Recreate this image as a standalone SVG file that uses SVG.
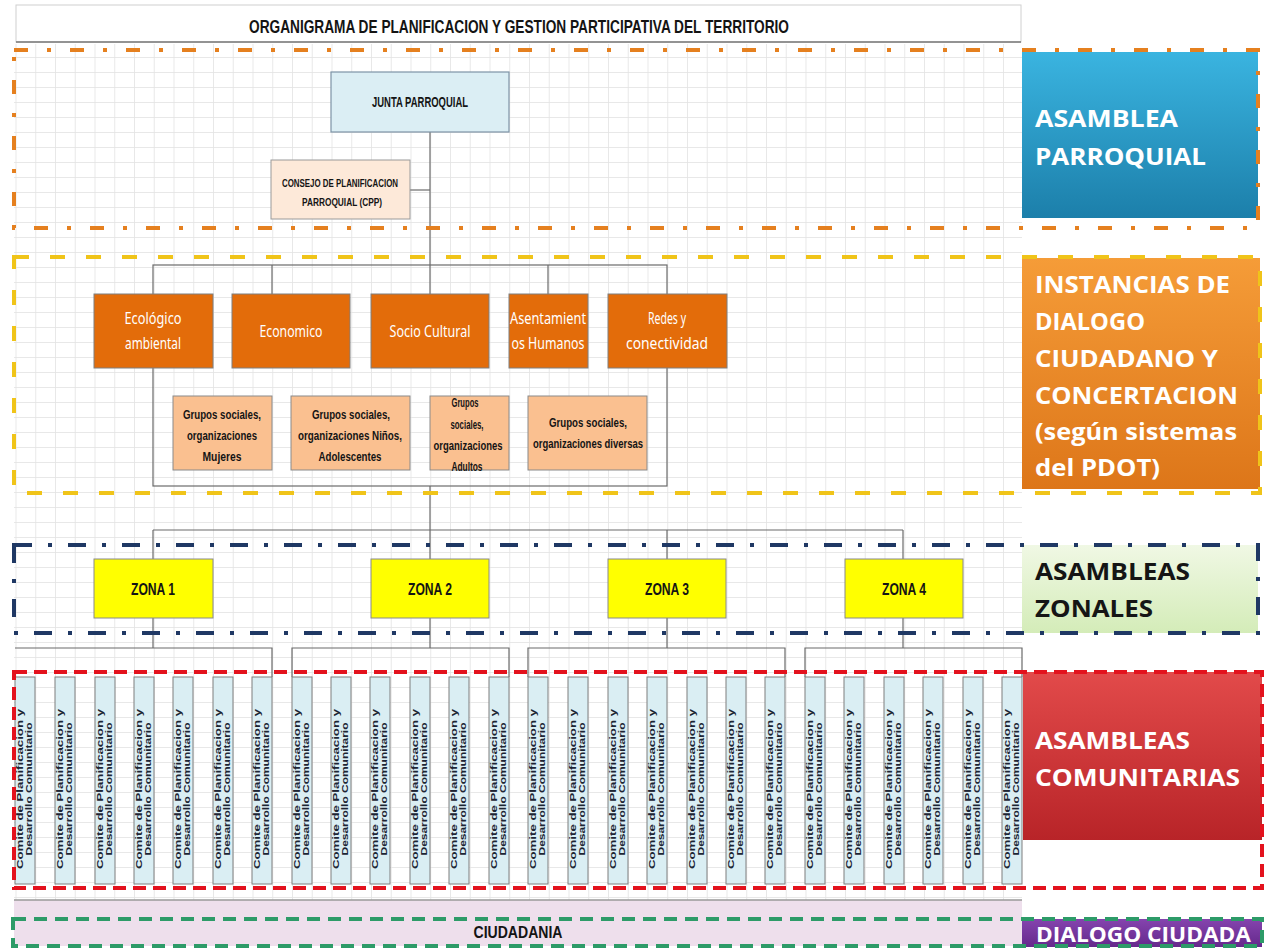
<svg xmlns="http://www.w3.org/2000/svg" width="1270" height="948" viewBox="0 0 1270 948">
<defs>
<pattern id="grid" width="19.75" height="15" patternUnits="userSpaceOnUse" x="15.5" y="12">
<path d="M0 0.5H19.75M0.5 0V15" stroke="#e2e2e2" stroke-width="0.8" fill="none"/>
</pattern>
<linearGradient id="gBlue" x1="0" y1="0" x2="0" y2="1"><stop offset="0" stop-color="#3AB4E0"/><stop offset="1" stop-color="#1C7FAA"/></linearGradient>
<linearGradient id="gOrange" x1="0" y1="0" x2="0" y2="1"><stop offset="0" stop-color="#F59C38"/><stop offset="1" stop-color="#DD7619"/></linearGradient>
<linearGradient id="gGreen" x1="0" y1="0" x2="0" y2="1"><stop offset="0" stop-color="#F0F8E4"/><stop offset="1" stop-color="#D4ECB8"/></linearGradient>
<linearGradient id="gRed" x1="0" y1="0" x2="0" y2="1"><stop offset="0" stop-color="#E24A4A"/><stop offset="1" stop-color="#B82428"/></linearGradient>
<linearGradient id="gPurple" x1="0" y1="0" x2="0" y2="1"><stop offset="0" stop-color="#8544AE"/><stop offset="1" stop-color="#65298C"/></linearGradient>
</defs>
<style>
.big{font-family:"Open Sans","Noto Sans","DejaVu Sans",sans-serif;font-weight:700;font-size:24px;fill:#ffffff}
.nar{font-family:"Liberation Sans",Arial,sans-serif;font-weight:700;fill:#141414}
.ob{fill:#E36C0A;stroke:#7f7f7f;stroke-width:1}
.ot{font-family:"Noto Sans","Open Sans",sans-serif;font-size:17px;fill:#ffffff;text-anchor:middle}
.pb{fill:#FAC090;stroke:#8a8a8a;stroke-width:1}
.pt{font-family:"Liberation Sans",Arial,sans-serif;font-weight:700;font-size:13px;fill:#141414;text-anchor:middle}
.zb{fill:#FFFF00;stroke:#8a8a8a;stroke-width:1}
.zt{font-family:"Liberation Sans",Arial,sans-serif;font-weight:700;font-size:16px;fill:#141414;text-anchor:middle}
.cb{fill:#DAEEF3;stroke:#7f7f7f;stroke-width:1}
.ct{font-family:"Liberation Sans",Arial,sans-serif;font-weight:700;font-size:8.5px;fill:#1c2533;text-anchor:middle}
.conn{stroke:#6b6b6b;stroke-width:1.2;fill:none}
.fr{fill:none;stroke-width:4}
</style>
<rect x="0" y="0" width="1270" height="948" fill="#ffffff"/>
<rect x="14" y="44" width="1008" height="856" fill="url(#grid)"/>
<rect x="14" y="900" width="1008" height="46" fill="#EEDFEC"/>
<line x1="14" y1="900" x2="1022" y2="900" stroke="#9a9a9a" stroke-width="1.5"/>

<g id="title">
<rect x="16" y="5" width="1005" height="37" fill="#ffffff" stroke="#d0d0d0" stroke-width="1"/>
<line x1="16" y1="42" x2="1021" y2="42" stroke="#777777" stroke-width="1.5"/>
<text class="nar" x="519" y="33" font-size="19" text-anchor="middle" textLength="540" lengthAdjust="spacingAndGlyphs">ORGANIGRAMA DE PLANIFICACION Y GESTION PARTICIPATIVA DEL TERRITORIO</text>
</g>

<g id="connectors">
<line class="conn" x1="430" y1="132" x2="430" y2="294"/>
<line class="conn" x1="410" y1="190" x2="430" y2="190"/>
<rect class="conn" x="153" y="265" width="514" height="221"/>
<line class="conn" x1="272" y1="265" x2="272" y2="294"/>
<line class="conn" x1="548" y1="265" x2="548" y2="294"/>
<line class="conn" x1="430" y1="486" x2="430" y2="559"/>
<line class="conn" x1="153" y1="530" x2="903" y2="530"/>
<line class="conn" x1="153" y1="530" x2="153" y2="559"/>
<line class="conn" x1="667" y1="530" x2="667" y2="559"/>
<line class="conn" x1="903" y1="530" x2="903" y2="559"/>
<line class="conn" x1="153" y1="618" x2="153" y2="648"/>
<line class="conn" x1="430" y1="618" x2="430" y2="648"/>
<line class="conn" x1="667" y1="618" x2="667" y2="648"/>
<line class="conn" x1="903" y1="618" x2="903" y2="648"/>
<path class="conn" d="M15 648H272V677"/>
<path class="conn" d="M292 677V648H509V677"/>
<path class="conn" d="M528 677V648H785V677"/>
<path class="conn" d="M805 677V648H1022V677"/>
</g>

<g id="junta-parroquial">
<rect x="331" y="72" width="178" height="60" fill="#DBEEF4" stroke="#7d93a6" stroke-width="1.2"/>
<text class="nar" x="420" y="107" font-size="14" text-anchor="middle" textLength="96" lengthAdjust="spacingAndGlyphs">JUNTA PARROQUIAL</text>
</g>
<g id="consejo-planificacion">
<rect x="271" y="160" width="139" height="59" fill="#FDE9D9" stroke="#9a9a9a" stroke-width="1"/>
<text class="nar" x="340" y="187" font-size="11" text-anchor="middle" textLength="116" lengthAdjust="spacingAndGlyphs">CONSEJO DE PLANIFICACION</text>
<text class="nar" x="342" y="206" font-size="11" text-anchor="middle" textLength="80" lengthAdjust="spacingAndGlyphs">PARROQUIAL (CPP)</text>
</g>

<g id="ecologico">
<rect class="ob" x="94" y="294" width="119" height="74"/>
<text class="ot" x="153" y="324" textLength="57" lengthAdjust="spacingAndGlyphs">Ecológico</text>
<text class="ot" x="153" y="349" textLength="56" lengthAdjust="spacingAndGlyphs">ambiental</text>
</g>
<g id="economico">
<rect class="ob" x="232" y="294" width="118" height="74"/>
<text class="ot" x="291" y="337" textLength="63" lengthAdjust="spacingAndGlyphs">Economico</text>
</g>
<g id="socio-cultural">
<rect class="ob" x="371" y="294" width="118" height="74"/>
<text class="ot" x="430" y="337" textLength="81" lengthAdjust="spacingAndGlyphs">Socio Cultural</text>
</g>
<g id="asentamientos">
<rect class="ob" x="509" y="294" width="79" height="74"/>
<text class="ot" x="548" y="324" textLength="76" lengthAdjust="spacingAndGlyphs">Asentamient</text>
<text class="ot" x="548" y="349" textLength="73" lengthAdjust="spacingAndGlyphs">os Humanos</text>
</g>
<g id="redes">
<rect class="ob" x="608" y="294" width="119" height="74"/>
<text class="ot" x="667" y="324" textLength="38" lengthAdjust="spacingAndGlyphs">Redes y</text>
<text class="ot" x="667" y="349" textLength="82" lengthAdjust="spacingAndGlyphs">conectividad</text>
</g>

<g id="grupos-mujeres">
<rect class="pb" x="173" y="396" width="99" height="74"/>
<text class="pt" x="222" y="419" textLength="78" lengthAdjust="spacingAndGlyphs">Grupos sociales,</text>
<text class="pt" x="222" y="440" textLength="70" lengthAdjust="spacingAndGlyphs">organizaciones</text>
<text class="pt" x="222" y="461" textLength="39" lengthAdjust="spacingAndGlyphs">Mujeres</text>
</g>
<g id="grupos-ninos">
<rect class="pb" x="291" y="396" width="119" height="74"/>
<text class="pt" x="351" y="419" textLength="78" lengthAdjust="spacingAndGlyphs">Grupos sociales,</text>
<text class="pt" x="350" y="440" textLength="104" lengthAdjust="spacingAndGlyphs">organizaciones Niños,</text>
<text class="pt" x="350" y="461" textLength="63" lengthAdjust="spacingAndGlyphs">Adolescentes</text>
</g>
<g id="grupos-adultos">
<rect class="pb" x="430" y="396" width="79" height="74"/>
<text class="pt" x="465" y="407" textLength="27" lengthAdjust="spacingAndGlyphs">Grupos</text>
<text class="pt" x="467" y="429" textLength="33" lengthAdjust="spacingAndGlyphs">sociales,</text>
<text class="pt" x="468" y="450" textLength="69" lengthAdjust="spacingAndGlyphs">organizaciones</text>
<text class="pt" x="467" y="471" textLength="31" lengthAdjust="spacingAndGlyphs">Adultos</text>
</g>
<g id="grupos-diversas">
<rect class="pb" x="528" y="396" width="119" height="74"/>
<text class="pt" x="588" y="427" textLength="78" lengthAdjust="spacingAndGlyphs">Grupos sociales,</text>
<text class="pt" x="588" y="448" textLength="110" lengthAdjust="spacingAndGlyphs">organizaciones diversas</text>
</g>

<g id="zona-1"><rect class="zb" x="94" y="559" width="119" height="59"/><text class="zt" x="153" y="595" textLength="44" lengthAdjust="spacingAndGlyphs">ZONA 1</text></g>
<g id="zona-2"><rect class="zb" x="371" y="559" width="118" height="59"/><text class="zt" x="430" y="595" textLength="44" lengthAdjust="spacingAndGlyphs">ZONA 2</text></g>
<g id="zona-3"><rect class="zb" x="608" y="559" width="118" height="59"/><text class="zt" x="667" y="595" textLength="44" lengthAdjust="spacingAndGlyphs">ZONA 3</text></g>
<g id="zona-4"><rect class="zb" x="845" y="559" width="118" height="59"/><text class="zt" x="904" y="595" textLength="44" lengthAdjust="spacingAndGlyphs">ZONA 4</text></g>

<g id="comite-1"><rect class="cb" x="15" y="677" width="20" height="207"/><text class="ct" transform="translate(15,789) rotate(-90)" y="8" textLength="160" lengthAdjust="spacingAndGlyphs">Comite de Planificacion y</text><text class="ct" transform="translate(15,789) rotate(-90)" y="17" textLength="133" lengthAdjust="spacingAndGlyphs">Desarrollo Comunitario</text></g>
<g id="comite-2"><rect class="cb" x="55" y="677" width="20" height="207"/><text class="ct" transform="translate(55,789) rotate(-90)" y="8" textLength="160" lengthAdjust="spacingAndGlyphs">Comite de Planificacion y</text><text class="ct" transform="translate(55,789) rotate(-90)" y="17" textLength="133" lengthAdjust="spacingAndGlyphs">Desarrollo Comunitario</text></g>
<g id="comite-3"><rect class="cb" x="95" y="677" width="20" height="207"/><text class="ct" transform="translate(95,789) rotate(-90)" y="8" textLength="160" lengthAdjust="spacingAndGlyphs">Comite de Planificacion y</text><text class="ct" transform="translate(95,789) rotate(-90)" y="17" textLength="133" lengthAdjust="spacingAndGlyphs">Desarrollo Comunitario</text></g>
<g id="comite-4"><rect class="cb" x="134" y="677" width="20" height="207"/><text class="ct" transform="translate(134,789) rotate(-90)" y="8" textLength="160" lengthAdjust="spacingAndGlyphs">Comite de Planificacion y</text><text class="ct" transform="translate(134,789) rotate(-90)" y="17" textLength="133" lengthAdjust="spacingAndGlyphs">Desarrollo Comunitario</text></g>
<g id="comite-5"><rect class="cb" x="173" y="677" width="20" height="207"/><text class="ct" transform="translate(173,789) rotate(-90)" y="8" textLength="160" lengthAdjust="spacingAndGlyphs">Comite de Planificacion y</text><text class="ct" transform="translate(173,789) rotate(-90)" y="17" textLength="133" lengthAdjust="spacingAndGlyphs">Desarrollo Comunitario</text></g>
<g id="comite-6"><rect class="cb" x="213" y="677" width="20" height="207"/><text class="ct" transform="translate(213,789) rotate(-90)" y="8" textLength="160" lengthAdjust="spacingAndGlyphs">Comite de Planificacion y</text><text class="ct" transform="translate(213,789) rotate(-90)" y="17" textLength="133" lengthAdjust="spacingAndGlyphs">Desarrollo Comunitario</text></g>
<g id="comite-7"><rect class="cb" x="252" y="677" width="20" height="207"/><text class="ct" transform="translate(252,789) rotate(-90)" y="8" textLength="160" lengthAdjust="spacingAndGlyphs">Comite de Planificacion y</text><text class="ct" transform="translate(252,789) rotate(-90)" y="17" textLength="133" lengthAdjust="spacingAndGlyphs">Desarrollo Comunitario</text></g>
<g id="comite-8"><rect class="cb" x="292" y="677" width="20" height="207"/><text class="ct" transform="translate(292,789) rotate(-90)" y="8" textLength="160" lengthAdjust="spacingAndGlyphs">Comite de Planificacion y</text><text class="ct" transform="translate(292,789) rotate(-90)" y="17" textLength="133" lengthAdjust="spacingAndGlyphs">Desarrollo Comunitario</text></g>
<g id="comite-9"><rect class="cb" x="331" y="677" width="20" height="207"/><text class="ct" transform="translate(331,789) rotate(-90)" y="8" textLength="160" lengthAdjust="spacingAndGlyphs">Comite de Planificacion y</text><text class="ct" transform="translate(331,789) rotate(-90)" y="17" textLength="133" lengthAdjust="spacingAndGlyphs">Desarrollo Comunitario</text></g>
<g id="comite-10"><rect class="cb" x="370" y="677" width="20" height="207"/><text class="ct" transform="translate(370,789) rotate(-90)" y="8" textLength="160" lengthAdjust="spacingAndGlyphs">Comite de Planificacion y</text><text class="ct" transform="translate(370,789) rotate(-90)" y="17" textLength="133" lengthAdjust="spacingAndGlyphs">Desarrollo Comunitario</text></g>
<g id="comite-11"><rect class="cb" x="410" y="677" width="20" height="207"/><text class="ct" transform="translate(410,789) rotate(-90)" y="8" textLength="160" lengthAdjust="spacingAndGlyphs">Comite de Planificacion y</text><text class="ct" transform="translate(410,789) rotate(-90)" y="17" textLength="133" lengthAdjust="spacingAndGlyphs">Desarrollo Comunitario</text></g>
<g id="comite-12"><rect class="cb" x="449" y="677" width="20" height="207"/><text class="ct" transform="translate(449,789) rotate(-90)" y="8" textLength="160" lengthAdjust="spacingAndGlyphs">Comite de Planificacion y</text><text class="ct" transform="translate(449,789) rotate(-90)" y="17" textLength="133" lengthAdjust="spacingAndGlyphs">Desarrollo Comunitario</text></g>
<g id="comite-13"><rect class="cb" x="489" y="677" width="20" height="207"/><text class="ct" transform="translate(489,789) rotate(-90)" y="8" textLength="160" lengthAdjust="spacingAndGlyphs">Comite de Planificacion y</text><text class="ct" transform="translate(489,789) rotate(-90)" y="17" textLength="133" lengthAdjust="spacingAndGlyphs">Desarrollo Comunitario</text></g>
<g id="comite-14"><rect class="cb" x="528" y="677" width="20" height="207"/><text class="ct" transform="translate(528,789) rotate(-90)" y="8" textLength="160" lengthAdjust="spacingAndGlyphs">Comite de Planificacion y</text><text class="ct" transform="translate(528,789) rotate(-90)" y="17" textLength="133" lengthAdjust="spacingAndGlyphs">Desarrollo Comunitario</text></g>
<g id="comite-15"><rect class="cb" x="568" y="677" width="20" height="207"/><text class="ct" transform="translate(568,789) rotate(-90)" y="8" textLength="160" lengthAdjust="spacingAndGlyphs">Comite de Planificacion y</text><text class="ct" transform="translate(568,789) rotate(-90)" y="17" textLength="133" lengthAdjust="spacingAndGlyphs">Desarrollo Comunitario</text></g>
<g id="comite-16"><rect class="cb" x="608" y="677" width="20" height="207"/><text class="ct" transform="translate(608,789) rotate(-90)" y="8" textLength="160" lengthAdjust="spacingAndGlyphs">Comite de Planificacion y</text><text class="ct" transform="translate(608,789) rotate(-90)" y="17" textLength="133" lengthAdjust="spacingAndGlyphs">Desarrollo Comunitario</text></g>
<g id="comite-17"><rect class="cb" x="647" y="677" width="20" height="207"/><text class="ct" transform="translate(647,789) rotate(-90)" y="8" textLength="160" lengthAdjust="spacingAndGlyphs">Comite de Planificacion y</text><text class="ct" transform="translate(647,789) rotate(-90)" y="17" textLength="133" lengthAdjust="spacingAndGlyphs">Desarrollo Comunitario</text></g>
<g id="comite-18"><rect class="cb" x="687" y="677" width="20" height="207"/><text class="ct" transform="translate(687,789) rotate(-90)" y="8" textLength="160" lengthAdjust="spacingAndGlyphs">Comite de Planificacion y</text><text class="ct" transform="translate(687,789) rotate(-90)" y="17" textLength="133" lengthAdjust="spacingAndGlyphs">Desarrollo Comunitario</text></g>
<g id="comite-19"><rect class="cb" x="726" y="677" width="20" height="207"/><text class="ct" transform="translate(726,789) rotate(-90)" y="8" textLength="160" lengthAdjust="spacingAndGlyphs">Comite de Planificacion y</text><text class="ct" transform="translate(726,789) rotate(-90)" y="17" textLength="133" lengthAdjust="spacingAndGlyphs">Desarrollo Comunitario</text></g>
<g id="comite-20"><rect class="cb" x="765" y="677" width="20" height="207"/><text class="ct" transform="translate(765,789) rotate(-90)" y="8" textLength="160" lengthAdjust="spacingAndGlyphs">Comite de Planificacion y</text><text class="ct" transform="translate(765,789) rotate(-90)" y="17" textLength="133" lengthAdjust="spacingAndGlyphs">Desarrollo Comunitario</text></g>
<g id="comite-21"><rect class="cb" x="805" y="677" width="20" height="207"/><text class="ct" transform="translate(805,789) rotate(-90)" y="8" textLength="160" lengthAdjust="spacingAndGlyphs">Comite de Planificacion y</text><text class="ct" transform="translate(805,789) rotate(-90)" y="17" textLength="133" lengthAdjust="spacingAndGlyphs">Desarrollo Comunitario</text></g>
<g id="comite-22"><rect class="cb" x="844" y="677" width="20" height="207"/><text class="ct" transform="translate(844,789) rotate(-90)" y="8" textLength="160" lengthAdjust="spacingAndGlyphs">Comite de Planificacion y</text><text class="ct" transform="translate(844,789) rotate(-90)" y="17" textLength="133" lengthAdjust="spacingAndGlyphs">Desarrollo Comunitario</text></g>
<g id="comite-23"><rect class="cb" x="884" y="677" width="20" height="207"/><text class="ct" transform="translate(884,789) rotate(-90)" y="8" textLength="160" lengthAdjust="spacingAndGlyphs">Comite de Planificacion y</text><text class="ct" transform="translate(884,789) rotate(-90)" y="17" textLength="133" lengthAdjust="spacingAndGlyphs">Desarrollo Comunitario</text></g>
<g id="comite-24"><rect class="cb" x="923" y="677" width="20" height="207"/><text class="ct" transform="translate(923,789) rotate(-90)" y="8" textLength="160" lengthAdjust="spacingAndGlyphs">Comite de Planificacion y</text><text class="ct" transform="translate(923,789) rotate(-90)" y="17" textLength="133" lengthAdjust="spacingAndGlyphs">Desarrollo Comunitario</text></g>
<g id="comite-25"><rect class="cb" x="963" y="677" width="20" height="207"/><text class="ct" transform="translate(963,789) rotate(-90)" y="8" textLength="160" lengthAdjust="spacingAndGlyphs">Comite de Planificacion y</text><text class="ct" transform="translate(963,789) rotate(-90)" y="17" textLength="133" lengthAdjust="spacingAndGlyphs">Desarrollo Comunitario</text></g>
<g id="comite-26"><rect class="cb" x="1002" y="677" width="20" height="207"/><text class="ct" transform="translate(1002,789) rotate(-90)" y="8" textLength="160" lengthAdjust="spacingAndGlyphs">Comite de Planificacion y</text><text class="ct" transform="translate(1002,789) rotate(-90)" y="17" textLength="133" lengthAdjust="spacingAndGlyphs">Desarrollo Comunitario</text></g>

<g id="ciudadania">
<text class="nar" x="518" y="938" font-size="17" text-anchor="middle" textLength="89" lengthAdjust="spacingAndGlyphs">CIUDADANIA</text>
</g>

<g id="asamblea-parroquial">
<rect x="1022" y="52" width="236" height="166" fill="url(#gBlue)"/>
<text class="big" x="1035" y="127" textLength="143" lengthAdjust="spacingAndGlyphs">ASAMBLEA</text>
<text class="big" x="1035" y="165" textLength="171" lengthAdjust="spacingAndGlyphs">PARROQUIAL</text>
</g>
<g id="instancias-dialogo">
<rect x="1022" y="258" width="238" height="231" fill="url(#gOrange)"/>
<text class="big" x="1035" y="293" textLength="195" lengthAdjust="spacingAndGlyphs">INSTANCIAS DE</text>
<text class="big" x="1035" y="330" textLength="110" lengthAdjust="spacingAndGlyphs">DIALOGO</text>
<text class="big" x="1035" y="367" textLength="183" lengthAdjust="spacingAndGlyphs">CIUDADANO Y</text>
<text class="big" x="1035" y="404" textLength="203" lengthAdjust="spacingAndGlyphs">CONCERTACION</text>
<text class="big" x="1035" y="440" textLength="202" lengthAdjust="spacingAndGlyphs">(según sistemas</text>
<text class="big" x="1035" y="476" textLength="125" lengthAdjust="spacingAndGlyphs">del PDOT)</text>
</g>
<g id="asambleas-zonales">
<rect x="1022" y="545" width="236" height="88" fill="url(#gGreen)"/>
<text class="big" x="1035" y="580" style="fill:#151515" textLength="155" lengthAdjust="spacingAndGlyphs">ASAMBLEAS</text>
<text class="big" x="1035" y="617" style="fill:#151515" textLength="118" lengthAdjust="spacingAndGlyphs">ZONALES</text>
</g>
<g id="asambleas-comunitarias">
<rect x="1023" y="672" width="239" height="168" fill="url(#gRed)"/>
<text class="big" x="1035" y="749" textLength="155" lengthAdjust="spacingAndGlyphs">ASAMBLEAS</text>
<text class="big" x="1035" y="786" textLength="205" lengthAdjust="spacingAndGlyphs">COMUNITARIAS</text>
</g>
<g id="dialogo-ciudadano">
<rect x="1022" y="919" width="240" height="28" fill="url(#gPurple)"/>
<text class="big" x="1036" y="942" style="font-size:22px" textLength="215" lengthAdjust="spacingAndGlyphs">DIALOGO CIUDADA</text>
</g>

<g id="frames">
<rect class="fr" x="14" y="50" width="1244" height="178" stroke="#E5801F" stroke-dasharray="14 19 4 19"/>
<rect class="fr" x="14" y="257" width="1246" height="236" stroke="#F0C419" stroke-dasharray="15 21"/>
<rect class="fr" x="14" y="545" width="1244" height="88" stroke="#1F3864" stroke-dasharray="18 16 4 16"/>
<rect class="fr" x="14" y="672" width="1248" height="216" stroke="#E3121D" stroke-dasharray="13 7"/>
<rect class="fr" x="13" y="919" width="1249" height="27" stroke="#2D9B68" stroke-width="3.5" stroke-dasharray="13 8"/>
</g>
</svg>
